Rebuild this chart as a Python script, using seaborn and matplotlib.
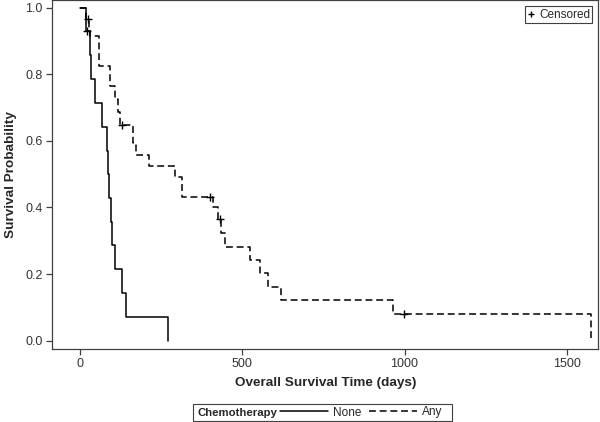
import pandas as pd
import matplotlib.pyplot as plt
import seaborn as sns
from matplotlib.lines import Line2D
from matplotlib.patches import Rectangle

# Kaplan-Meier step points (day, survival after the step)
none_days = [0, 18, 31, 35, 45, 66, 84, 87, 90, 95, 98, 108, 130, 142, 272]
none_surv = [1.0, 0.929, 0.857, 0.786, 0.714, 0.643, 0.571, 0.5, 0.429,
             0.357, 0.286, 0.214, 0.143, 0.071, 0.0]

any_days = [0, 17, 28, 32, 58, 91, 108, 116, 122, 163, 172, 211, 293, 313,
            410, 425, 433, 447, 524, 555, 580, 619, 966, 1575]
any_surv = [1.0, 0.967, 0.94, 0.915, 0.825, 0.764, 0.725, 0.686, 0.647,
            0.594, 0.557, 0.525, 0.49, 0.43, 0.40, 0.364, 0.324, 0.28,
            0.242, 0.202, 0.162, 0.122, 0.08, 0.0]

# censored observations
none_cens_days = [21]
none_cens_surv = [0.929]
any_cens_days = [25, 128, 400, 430, 997]
any_cens_surv = [0.967, 0.647, 0.43, 0.364, 0.08]

x_ticks = [0, 500, 1000, 1500]
y_ticks = [0.0, 0.2, 0.4, 0.6, 0.8, 1.0]

curves = pd.concat([
    pd.DataFrame({'day': none_days, 'surv': none_surv, 'Chemotherapy': 'None'}),
    pd.DataFrame({'day': any_days, 'surv': any_surv, 'Chemotherapy': 'Any'}),
])
censored = pd.DataFrame({
    'day': none_cens_days + any_cens_days,
    'surv': none_cens_surv + any_cens_surv,
})

sns.set_style("ticks")
plt.rcParams['font.family'] = ['Liberation Sans', 'DejaVu Sans']

fig = plt.figure(figsize=(6, 4.22), dpi=100)
ax = fig.add_axes([0.087, 0.174, 0.91, 0.825])

dash_map = {'None': '', 'Any': (4.5, 2.5)}
sns.lineplot(data=curves, x='day', y='surv', style='Chemotherapy',
             dashes=dash_map, estimator=None, sort=False, color='black',
             linewidth=1.1, drawstyle='steps-post', legend=False, ax=ax)
sns.scatterplot(data=censored, x='day', y='surv', marker='+', s=30,
                color='black', linewidth=1.0, legend=False, ax=ax, zorder=3)

ax.set_xlim(-86, 1597)
ax.set_ylim(-0.024, 1.022)
ax.set_xticks(x_ticks)
ax.set_yticks(y_ticks)
ax.set_yticklabels([f"{v:.1f}" for v in y_ticks])
ax.tick_params(axis='both', labelsize=9, labelcolor='#333333',
               color='#404040', length=4, width=0.9, pad=3)
for s in ax.spines.values():
    s.set_visible(True)
    s.set_color('#404040')
    s.set_linewidth(0.9)

ax.set_xlabel('Overall Survival Time (days)', fontsize=9.7,
              fontweight='bold', labelpad=5)
ax.set_ylabel('Survival Probability', fontsize=9.7,
              fontweight='bold', labelpad=6)

# Censored key inside the plot
cens_handle = Line2D([], [], marker='+', linestyle='none', color='black',
                     markersize=5, markeredgewidth=1.0)
leg = ax.legend([cens_handle], ['Censored'], loc='upper right',
                fontsize=8.5, handlelength=0.6, handletextpad=0.35,
                borderpad=0.2, borderaxespad=0.5, fancybox=False,
                framealpha=1)
leg.get_frame().set_edgecolor('#404040')
leg.get_frame().set_linewidth(0.8)

# Bottom legend: bold title on the left, then line styles
W, H = 600, 422
fig.patches.append(Rectangle((192.7 / W, 1 - 420.7 / H), (451.7 - 192.7) / W,
                             (420.7 - 404.3) / H, transform=fig.transFigure,
                             fill=False, edgecolor='#404040', linewidth=0.8))
fig.text(197 / W, 1 - 412.5 / H, 'Chemotherapy', fontsize=8.2,
         fontweight='bold', va='center', ha='left')
line_handles = [Line2D([], [], color='black', linewidth=1.1),
                Line2D([], [], color='black', linewidth=1.1,
                       linestyle=(0, (4.5, 2.5)))]
fig.legend(line_handles, ['None', 'Any'], loc='center left',
           bbox_to_anchor=(280 / W, 1 - 412.5 / H), ncol=2, frameon=False,
           fontsize=8.5, handlelength=4.1, handletextpad=0.4,
           columnspacing=0.6, borderpad=0, borderaxespad=0)

fig.savefig('out.png', dpi=100)
